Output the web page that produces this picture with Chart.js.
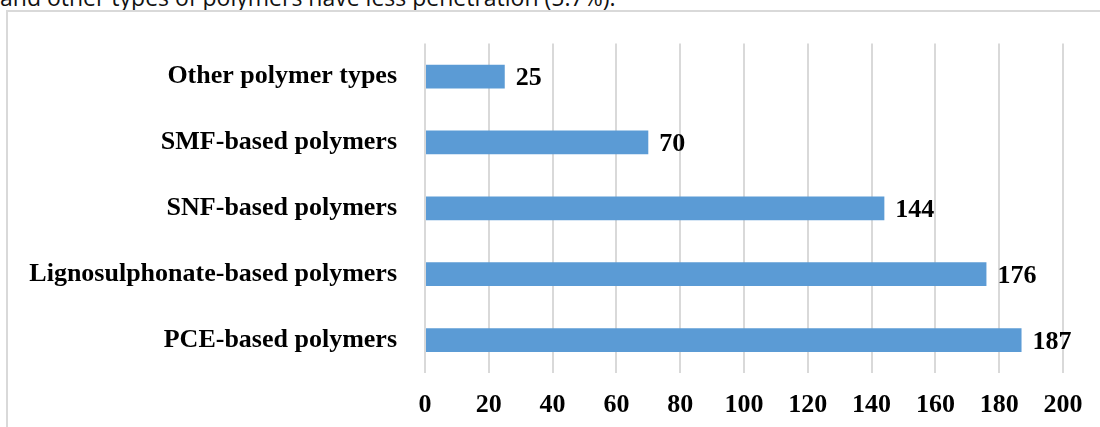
<!DOCTYPE html>
<html>
<head>
<meta charset="utf-8">
<script src="https://cdn.jsdelivr.net/npm/chart.js@4/dist/chart.umd.min.js"></script>
<style>
  html, body { margin: 0; padding: 0; background: #fff; overflow: hidden; }
  body { width: 1100px; height: 427px; position: relative; }
  #lead {
    position: absolute; left: 0; top: -15px;
    font: 23px "Open Sans", sans-serif; line-height: 24px; color: #111;
    white-space: nowrap;
  }
  #chart { position: absolute; left: 0; top: 0; }
</style>
</head>
<body>
<div id="lead">and other types of polymers have less penetration (5.7%).</div>
<canvas id="chart" width="1100" height="427"></canvas>
<script>
// 카테고리 / 값
const categories = [
  'Other polymer types',
  'SMF-based polymers',
  'SNF-based polymers',
  'Lignosulphonate-based polymers',
  'PCE-based polymers',
];
const counts = [25, 70, 144, 176, 187];
const xTicks = [0, 20, 40, 60, 80, 100, 120, 140, 160, 180, 200];

const serifBold = { family: '"Liberation Serif", "Times New Roman", serif', size: 26, weight: 'bold' };

// 차트 테두리 (왼쪽, 위쪽만 보임)
const frame = {
  id: 'frame',
  beforeDraw(chart) {
    const ctx = chart.ctx;
    ctx.save();
    ctx.fillStyle = '#d9d9d9';
    ctx.fillRect(6, 10, 2, chart.height - 10);
    ctx.fillRect(6, 10, chart.width - 6, 2);
    ctx.restore();
  }
};

// 막대 끝에 값 표시
const valueLabels = {
  id: 'valueLabels',
  afterDatasetsDraw(chart) {
    const ctx = chart.ctx;
    const meta = chart.getDatasetMeta(0);
    ctx.save();
    ctx.font = 'bold 26px "Liberation Serif", "Times New Roman", serif';
    ctx.fillStyle = '#000';
    ctx.textAlign = 'left';
    ctx.textBaseline = 'middle';
    meta.data.forEach((bar, i) => {
      ctx.fillText(String(counts[i]), bar.x + 11, bar.y + 2);
    });
    ctx.restore();
  }
};

new Chart(document.getElementById('chart').getContext('2d'), {
  type: 'bar',
  data: {
    labels: categories,
    datasets: [{
      data: counts,
      backgroundColor: '#5b9bd5',
      borderWidth: 0,
      barPercentage: 0.36,
      categoryPercentage: 1,
    }],
  },
  options: {
    indexAxis: 'y',
    responsive: false,
    animation: false,
    devicePixelRatio: 1,
    layout: { padding: { top: 40, right: 37, left: 0, bottom: 0 } },
    plugins: {
      legend: { display: false },
      tooltip: { enabled: false },
    },
    scales: {
      x: {
        min: 0,
        max: 200,
        afterBuildTicks: scale => { scale.ticks = xTicks.map(v => ({ value: v })); },
        afterFit: scale => { scale.height = 54; },
        ticks: { color: '#000', font: serifBold, padding: 17, maxRotation: 0 },
        grid: { color: '#d9d9d9', lineWidth: 2, drawTicks: false },
        border: { display: false },
      },
      y: {
        afterFit: scale => { scale.width = 425; },
        ticks: { color: '#000', font: serifBold, padding: 28 },
        grid: { display: false, drawTicks: false },
        border: { display: false },
      },
    },
  },
  plugins: [frame, valueLabels],
});
</script>
</body>
</html>
